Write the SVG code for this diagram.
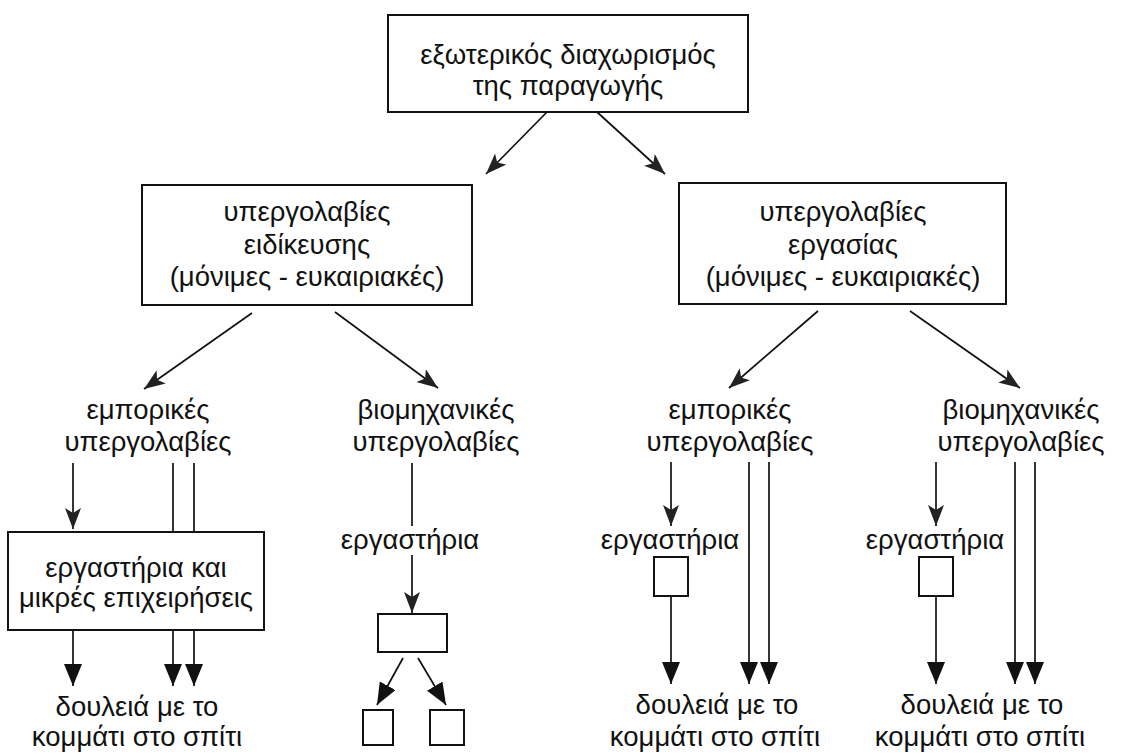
<svg xmlns="http://www.w3.org/2000/svg" width="1129" height="754" viewBox="0 0 1129 754">
<style>
text{font-family:"Liberation Sans",Arial,sans-serif;font-size:27.5px;fill:#111;text-anchor:middle}
.box{fill:#fff;stroke:#111;stroke-width:2}
.ln{stroke:#111;stroke-width:1.7;fill:none}
.a{marker-end:url(#ah)}
.b{marker-end:url(#ahb)}
</style>
<defs>
<marker id="ah" markerUnits="userSpaceOnUse" markerWidth="26" markerHeight="20" refX="21" refY="8" orient="auto">
<path d="M0,0 L21,8 L0,16 L5,8 Z" fill="#222"/>
</marker>
<marker id="ahb" markerUnits="userSpaceOnUse" markerWidth="26" markerHeight="22" refX="22" refY="9" orient="auto">
<path d="M0,0 L22,9 L0,18 Z" fill="#111"/>
</marker>
</defs>
<rect width="1129" height="754" fill="#fff"/>
<g id="connectors">
<line class="ln a" x1="547" y1="112" x2="486" y2="174"/>
<line class="ln a" x1="597" y1="112" x2="665" y2="174"/>
<line class="ln a" x1="252" y1="313" x2="144" y2="389"/>
<line class="ln a" x1="335" y1="312" x2="438" y2="388"/>
<line class="ln a" x1="818" y1="311" x2="729" y2="388"/>
<line class="ln a" x1="910" y1="311" x2="1020" y2="388"/>
<line class="ln a" x1="73" y1="463" x2="73" y2="529"/>
<line class="ln" x1="173" y1="463" x2="173" y2="532"/>
<line class="ln" x1="194" y1="463" x2="194" y2="532"/>
<line class="ln b" x1="73" y1="630" x2="73" y2="686"/>
<line class="ln b" x1="173" y1="630" x2="173" y2="686"/>
<line class="ln b" x1="194" y1="630" x2="194" y2="686"/>
<line class="ln" x1="412" y1="463" x2="412" y2="526"/>
<line class="ln a" x1="412" y1="555" x2="412" y2="613"/>
<line class="ln b" x1="403" y1="658" x2="377" y2="705"/>
<line class="ln b" x1="418" y1="658" x2="446" y2="705"/>
<line class="ln a" x1="671" y1="462" x2="671" y2="526"/>
<line class="ln b" x1="671" y1="596" x2="671" y2="684"/>
<line class="ln b" x1="749" y1="462" x2="749" y2="684"/>
<line class="ln b" x1="769" y1="462" x2="769" y2="684"/>
<line class="ln a" x1="936" y1="462" x2="936" y2="526"/>
<line class="ln b" x1="936" y1="596" x2="936" y2="684"/>
<line class="ln b" x1="1015" y1="462" x2="1015" y2="684"/>
<line class="ln b" x1="1035" y1="462" x2="1035" y2="684"/>
</g>
<g id="top">
<rect class="box" x="388" y="15" width="360" height="97"/>
<text x="568" y="64">εξωτερικός διαχωρισμός</text>
<text x="568" y="95">της παραγωγής</text>
</g>
<g id="ypergolavies-eidikeusis">
<rect class="box" x="142" y="185" width="330" height="120"/>
<text x="307" y="221">υπεργολαβίες</text>
<text x="307" y="254">ειδίκευσης</text>
<text x="307" y="286">(μόνιμες - ευκαιριακές)</text>
</g>
<g id="ypergolavies-ergasias">
<rect class="box" x="679" y="183" width="327" height="121"/>
<text x="843" y="221">υπεργολαβίες</text>
<text x="843" y="254">εργασίας</text>
<text x="843" y="286">(μόνιμες - ευκαιριακές)</text>
</g>
<g id="emporikes-1">
<text x="148" y="419">εμπορικές</text>
<text x="148" y="451">υπεργολαβίες</text>
</g>
<g id="viomixanikes-1">
<text x="436" y="419">βιομηχανικές</text>
<text x="436" y="451">υπεργολαβίες</text>
</g>
<g id="emporikes-2">
<text x="730" y="419">εμπορικές</text>
<text x="730" y="451">υπεργολαβίες</text>
</g>
<g id="viomixanikes-2">
<text x="1021" y="419">βιομηχανικές</text>
<text x="1021" y="451">υπεργολαβίες</text>
</g>
<g id="ergastiria-mikres">
<rect class="box" x="8" y="532" width="256" height="98"/>
<text x="136" y="577">εργαστήρια και</text>
<text x="136" y="607">μικρές επιχειρήσεις</text>
</g>
<g id="douleia-1">
<text x="137" y="716">δουλειά με το</text>
<text x="137" y="746">κομμάτι στο σπίτι</text>
</g>
<g id="ergastiria-viom-1">
<text x="410" y="549">εργαστήρια</text>
</g>
<g id="rect-mid">
<rect class="box" x="378" y="614" width="69" height="38"/>
</g>
<g id="sq-a"><rect class="box" x="363" y="710" width="30" height="35"/></g>
<g id="sq-b"><rect class="box" x="430" y="710" width="34" height="35"/></g>
<g id="ergastiria-2">
<text x="670" y="549">εργαστήρια</text>
<rect class="box" x="654" y="557" width="34" height="39"/>
</g>
<g id="douleia-2">
<text x="717" y="714">δουλειά με το</text>
<text x="715" y="746">κομμάτι στο σπίτι</text>
</g>
<g id="ergastiria-3">
<text x="935" y="549">εργαστήρια</text>
<rect class="box" x="919" y="557" width="34" height="39"/>
</g>
<g id="douleia-3">
<text x="982" y="714">δουλειά με το</text>
<text x="980" y="746">κομμάτι στο σπίτι</text>
</g>
</svg>
